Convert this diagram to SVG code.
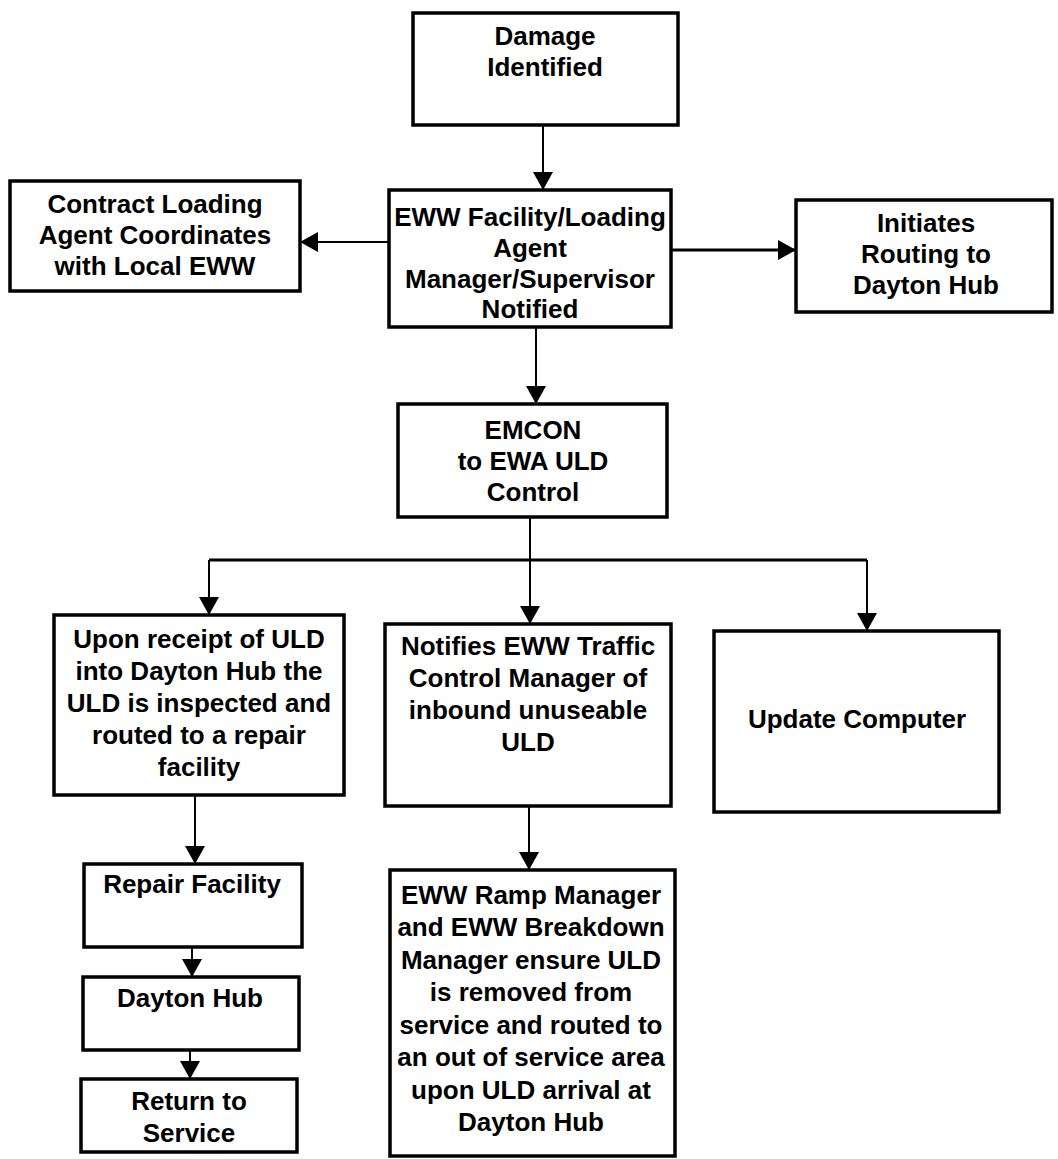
<svg xmlns="http://www.w3.org/2000/svg" width="1058" height="1159" viewBox="0 0 1058 1159">
<style>
.box{fill:#fff;stroke:#000;stroke-width:3.5}
.t{font-family:"Liberation Sans",Arial,sans-serif;font-weight:bold;font-size:26px;text-anchor:middle;fill:#000}
.c{fill:none;stroke:#000;stroke-width:2}
.ct{fill:none;stroke:#000;stroke-width:3}
</style>
<defs>
<marker id="ah" viewBox="0 0 18 20" refX="18" refY="10" markerWidth="18" markerHeight="20" markerUnits="userSpaceOnUse" orient="auto">
<path d="M0,0 L18,10 L0,20 z" fill="#000"/>
</marker>
</defs>
<rect width="1058" height="1159" fill="#fff"/>
<g id="connectors">
<line class="c" x1="543" y1="125" x2="543" y2="190" marker-end="url(#ah)"/>
<line class="c" x1="389" y1="242" x2="300" y2="242" marker-end="url(#ah)"/>
<line class="ct" x1="671" y1="250" x2="796" y2="250" marker-end="url(#ah)"/>
<line class="c" x1="536" y1="327" x2="536" y2="404" marker-end="url(#ah)"/>
<line class="c" x1="530" y1="517" x2="530" y2="560"/>
<line class="ct" x1="209" y1="560" x2="867" y2="560"/>
<line class="c" x1="209" y1="560" x2="209" y2="615" marker-end="url(#ah)"/>
<line class="c" x1="530" y1="560" x2="530" y2="624" marker-end="url(#ah)"/>
<line class="c" x1="867" y1="560" x2="867" y2="631" marker-end="url(#ah)"/>
<line class="c" x1="195" y1="795" x2="195" y2="864" marker-end="url(#ah)"/>
<line class="c" x1="192" y1="947" x2="192" y2="977" marker-end="url(#ah)"/>
<line class="c" x1="190" y1="1050" x2="190" y2="1079" marker-end="url(#ah)"/>
<line class="c" x1="529" y1="806" x2="529" y2="870" marker-end="url(#ah)"/>
</g>
<g id="damage">
<rect class="box" x="413" y="13" width="265" height="112"/>
<text class="t" x="545" y="45">Damage</text>
<text class="t" x="545" y="76">Identified</text>
</g>
<g id="contract">
<rect class="box" x="10" y="181" width="290" height="110"/>
<text class="t" x="155" y="213">Contract Loading</text>
<text class="t" x="155" y="244">Agent Coordinates</text>
<text class="t" x="155" y="275">with Local EWW</text>
</g>
<g id="eww-facility">
<rect class="box" x="389" y="190" width="282" height="137"/>
<text class="t" x="530" y="226">EWW Facility/Loading</text>
<text class="t" x="530" y="257">Agent</text>
<text class="t" x="530" y="288">Manager/Supervisor</text>
<text class="t" x="530" y="318">Notified</text>
</g>
<g id="initiates">
<rect class="box" x="796" y="200" width="256" height="112"/>
<text class="t" x="926" y="232">Initiates</text>
<text class="t" x="926" y="263">Routing to</text>
<text class="t" x="926" y="294">Dayton Hub</text>
</g>
<g id="emcon">
<rect class="box" x="398" y="404" width="269" height="113"/>
<text class="t" x="533" y="439">EMCON</text>
<text class="t" x="533" y="470">to EWA ULD</text>
<text class="t" x="533" y="501">Control</text>
</g>
<g id="upon-receipt">
<rect class="box" x="54" y="615" width="290" height="180"/>
<text class="t" x="199" y="648">Upon receipt of ULD</text>
<text class="t" x="199" y="680">into Dayton Hub the</text>
<text class="t" x="199" y="712">ULD is inspected and</text>
<text class="t" x="199" y="744">routed to a repair</text>
<text class="t" x="199" y="776">facility</text>
</g>
<g id="notifies">
<rect class="box" x="385" y="624" width="286" height="182"/>
<text class="t" x="528" y="655">Notifies EWW Traffic</text>
<text class="t" x="528" y="687">Control Manager of</text>
<text class="t" x="528" y="719">inbound unuseable</text>
<text class="t" x="528" y="751">ULD</text>
</g>
<g id="update-computer">
<rect class="box" x="714" y="631" width="285" height="181"/>
<text class="t" x="857" y="728">Update Computer</text>
</g>
<g id="repair-facility">
<rect class="box" x="84" y="864" width="218" height="83"/>
<text class="t" x="192" y="893">Repair Facility</text>
</g>
<g id="dayton-hub">
<rect class="box" x="83" y="977" width="216" height="73"/>
<text class="t" x="190" y="1007">Dayton Hub</text>
</g>
<g id="return-to-service">
<rect class="box" x="81" y="1079" width="216" height="73"/>
<text class="t" x="189" y="1110">Return to</text>
<text class="t" x="189" y="1142">Service</text>
</g>
<g id="ramp-manager">
<rect class="box" x="390" y="870" width="285" height="286"/>
<text class="t" x="531" y="904">EWW Ramp Manager</text>
<text class="t" x="531" y="936">and EWW Breakdown</text>
<text class="t" x="531" y="969">Manager ensure ULD</text>
<text class="t" x="531" y="1001">is removed from</text>
<text class="t" x="531" y="1034">service and routed to</text>
<text class="t" x="531" y="1066">an out of service area</text>
<text class="t" x="531" y="1099">upon ULD arrival at</text>
<text class="t" x="531" y="1131">Dayton Hub</text>
</g>
</svg>
